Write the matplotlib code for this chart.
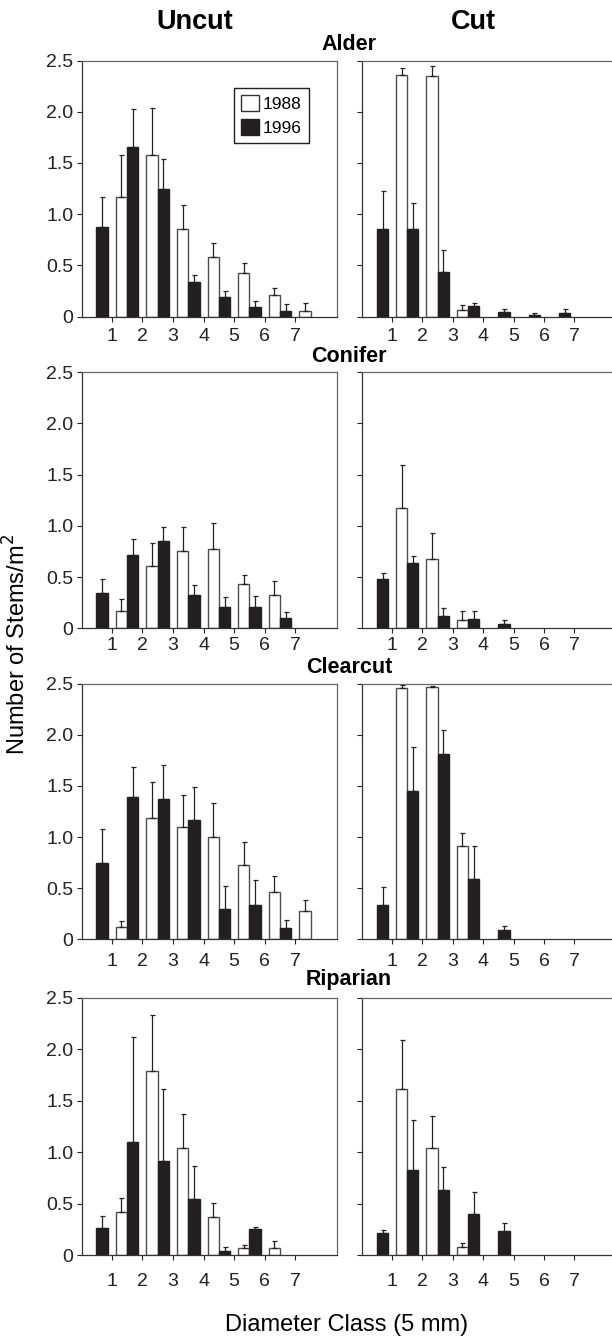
import matplotlib
matplotlib.use("Agg")
import matplotlib.pyplot as plt
import numpy as np
from matplotlib.patches import Patch

plt.rcParams['font.family'] = ['Liberation Sans', 'DejaVu Sans']

classes = [1, 2, 3, 4, 5, 6, 7]
sites = ["Alder", "Conifer", "Clearcut", "Riparian"]
treatments = ["Uncut", "Cut"]
years = ["1988", "1996"]

# mean stems/m2 per diameter class, and upper SE
alder_uncut_88 = [1.17, 1.58, 0.86, 0.58, 0.43, 0.21, 0.06]
alder_uncut_88_se = [0.41, 0.46, 0.23, 0.14, 0.09, 0.07, 0.07]
alder_uncut_96 = [0.88, 1.66, 1.25, 0.34, 0.19, 0.09, 0.06]
alder_uncut_96_se = [0.29, 0.37, 0.29, 0.07, 0.06, 0.06, 0.06]
alder_cut_88 = [2.36, 2.35, 0.07, 0, 0, 0, 0]
alder_cut_88_se = [0.07, 0.10, 0.04, 0, 0, 0, 0]
alder_cut_96 = [0.86, 0.86, 0.44, 0.10, 0.05, 0.02, 0.04]
alder_cut_96_se = [0.37, 0.25, 0.21, 0.03, 0.03, 0.02, 0.04]

conifer_uncut_88 = [0.17, 0.61, 0.75, 0.77, 0.43, 0.33, 0]
conifer_uncut_88_se = [0.12, 0.22, 0.24, 0.26, 0.09, 0.13, 0]
conifer_uncut_96 = [0.34, 0.72, 0.85, 0.33, 0.21, 0.21, 0.10]
conifer_uncut_96_se = [0.14, 0.15, 0.14, 0.09, 0.10, 0.11, 0.06]
conifer_cut_88 = [1.17, 0.68, 0.085, 0, 0, 0, 0]
conifer_cut_88_se = [0.42, 0.25, 0.085, 0, 0, 0, 0]
conifer_cut_96 = [0.48, 0.64, 0.12, 0.09, 0.04, 0, 0]
conifer_cut_96_se = [0.06, 0.07, 0.08, 0.08, 0.045, 0, 0]

clearcut_uncut_88 = [0.12, 1.19, 1.10, 1.00, 0.73, 0.46, 0.28]
clearcut_uncut_88_se = [0.06, 0.35, 0.31, 0.33, 0.22, 0.16, 0.10]
clearcut_uncut_96 = [0.75, 1.39, 1.37, 1.165, 0.30, 0.34, 0.115]
clearcut_uncut_96_se = [0.33, 0.29, 0.33, 0.325, 0.22, 0.24, 0.075]
clearcut_cut_88 = [2.46, 2.465, 0.915, 0, 0, 0, 0]
clearcut_cut_88_se = [0.03, 0.015, 0.125, 0, 0, 0, 0]
clearcut_cut_96 = [0.335, 1.45, 1.81, 0.59, 0.094, 0, 0]
clearcut_cut_96_se = [0.18, 0.43, 0.24, 0.32, 0.04, 0, 0]

riparian_uncut_88 = [0.415, 1.79, 1.04, 0.37, 0.07, 0.07, 0]
riparian_uncut_88_se = [0.135, 0.54, 0.33, 0.14, 0.026, 0.065, 0]
riparian_uncut_96 = [0.26, 1.10, 0.91, 0.545, 0.04, 0.25, 0]
riparian_uncut_96_se = [0.12, 1.02, 0.70, 0.32, 0.04, 0.025, 0]
riparian_cut_88 = [1.61, 1.04, 0.08, 0, 0, 0, 0]
riparian_cut_88_se = [0.48, 0.31, 0.04, 0, 0, 0, 0]
riparian_cut_96 = [0.21, 0.83, 0.63, 0.40, 0.23, 0, 0]
riparian_cut_96_se = [0.03, 0.48, 0.23, 0.21, 0.08, 0, 0]

data = {
    ("Alder", "Uncut"): (alder_uncut_88, alder_uncut_88_se, alder_uncut_96, alder_uncut_96_se),
    ("Alder", "Cut"): (alder_cut_88, alder_cut_88_se, alder_cut_96, alder_cut_96_se),
    ("Conifer", "Uncut"): (conifer_uncut_88, conifer_uncut_88_se, conifer_uncut_96, conifer_uncut_96_se),
    ("Conifer", "Cut"): (conifer_cut_88, conifer_cut_88_se, conifer_cut_96, conifer_cut_96_se),
    ("Clearcut", "Uncut"): (clearcut_uncut_88, clearcut_uncut_88_se, clearcut_uncut_96, clearcut_uncut_96_se),
    ("Clearcut", "Cut"): (clearcut_cut_88, clearcut_cut_88_se, clearcut_cut_96, clearcut_cut_96_se),
    ("Riparian", "Uncut"): (riparian_uncut_88, riparian_uncut_88_se, riparian_uncut_96, riparian_uncut_96_se),
    ("Riparian", "Cut"): (riparian_cut_88, riparian_cut_88_se, riparian_cut_96, riparian_cut_96_se),
}

W, H = 612, 1338
BLACK = '#231f20'


def draw_bars(ax, xs, vals, errs, face, edge):
    xs = np.asarray(xs, float)
    vals = np.asarray(vals, float)
    errs = np.asarray(errs, float)
    m = vals > 0
    ax.bar(xs[m], vals[m], width=0.37, color=face, edgecolor=edge,
           linewidth=1.0, zorder=2)
    ax.errorbar(xs[m], vals[m], yerr=[np.zeros(m.sum()), errs[m]], fmt='none',
                ecolor='#222222', elinewidth=0.9, capsize=1.8, capthick=0.9,
                zorder=3)


def main():
    fig = plt.figure(figsize=(W / 100, H / 100), dpi=100)

    row_top = [60.5, 372.3, 683.6, 998.0]
    row_bot = [316.7, 628.3, 939.3, 1255.0]
    xpad = [4.8, 2.6, 6.0, 9.0]
    col_left = [82.3, 362.3]
    col_right = [336.7, 612.0]
    col_xlim = [(0.04, 8.35), (0.02, 8.24)]
    title_base = [50, 361.7, 673.3, 985]

    x = np.array(classes, float)
    for r, site in enumerate(sites):
        for c, treat in enumerate(treatments):
            rect = [col_left[c] / W, 1 - row_bot[r] / H,
                    (col_right[c] - col_left[c]) / W,
                    (row_bot[r] - row_top[r]) / H]
            ax = fig.add_axes(rect)
            y88, se88, y96, se96 = data[(site, treat)]
            draw_bars(ax, x + 0.315, y88, se88, 'white', '#4d4d4d')
            draw_bars(ax, x - 0.315, y96, se96, BLACK, BLACK)

            ax.set_xlim(*col_xlim[c])
            ax.set_ylim(0, 2.5)
            ax.set_xticks(classes)
            ax.set_xticklabels([str(k) for k in classes])
            ax.set_yticks([0, 0.5, 1.0, 1.5, 2.0, 2.5])
            if c == 0:
                ax.set_yticklabels(['0', '0.5', '1.0', '1.5', '2.0', '2.5'])
            else:
                ax.set_yticklabels([])
            ax.tick_params(direction='out', length=3.6, width=0.8,
                           colors='#222222', labelsize=14)
            ax.tick_params(axis='x', pad=xpad[r])
            ax.tick_params(axis='y', pad=3)
            for s in ['left', 'bottom']:
                ax.spines[s].set_color('#333333')
                ax.spines[s].set_linewidth(0.9)
            for s in ['top', 'right']:
                ax.spines[s].set_color('#666666')
                ax.spines[s].set_linewidth(0.9)
            if c == 1:
                ax.spines['right'].set_visible(False)

            if r == 0 and c == 0:
                handles = [Patch(facecolor='white', edgecolor='#333333', linewidth=1.0),
                           Patch(facecolor=BLACK, edgecolor=BLACK, linewidth=1.0)]
                leg = ax.legend(handles, years, loc='upper left',
                                bbox_to_anchor=(0.596, 0.893), borderaxespad=0,
                                fontsize=12.5, handlelength=1.0, handleheight=1.0,
                                handletextpad=0.25, labelspacing=0.42,
                                borderpad=0.42, fancybox=False, framealpha=1)
                leg.get_frame().set_edgecolor('#222222')
                leg.get_frame().set_linewidth(1.0)

        fig.text(349 / W, 1 - title_base[r] / H, site, ha='center', va='baseline',
                 fontsize=15.5, fontweight='bold')

    fig.text(195 / W, 1 - 29.3 / H, "Uncut", ha='center', va='baseline',
             fontsize=19.5, fontweight='bold')
    fig.text(473 / W, 1 - 29.3 / H, "Cut", ha='center', va='baseline',
             fontsize=19.5, fontweight='bold')
    fig.text(17 / W, 1 - 644 / H, "Number of Stems/m$^2$", rotation=90,
             ha='center', va='center', fontsize=17)
    fig.text(347 / W, 1 - 1331 / H, "Diameter Class (5 mm)", ha='center',
             va='baseline', fontsize=17)

    fig.savefig("out.png", dpi=100)


if __name__ == "__main__":
    main()
